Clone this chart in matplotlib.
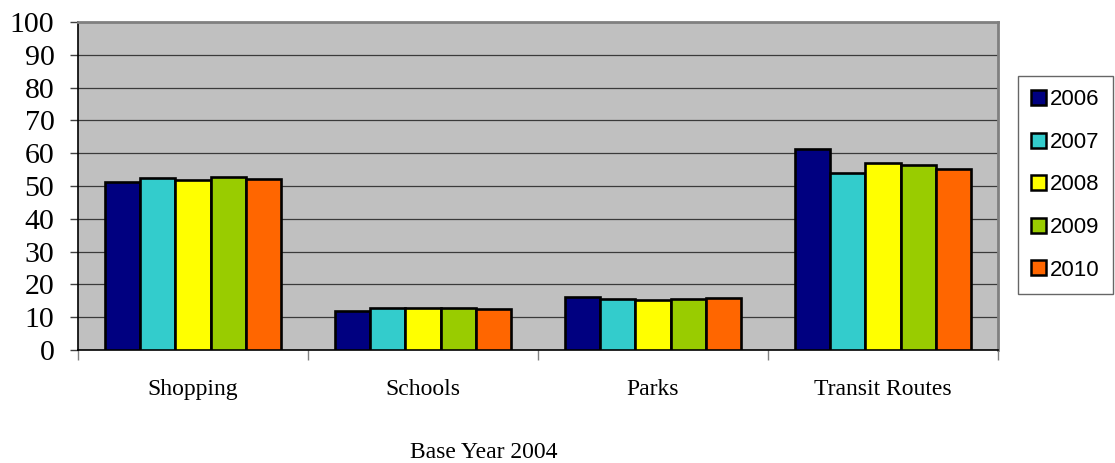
import matplotlib.pyplot as plt
import numpy as np

# values
categories = ['Shopping', 'Schools', 'Parks', 'Transit Routes']
years = ['2006', '2007', '2008', '2009', '2010']
values = {
    '2006': [51.3, 11.8, 16.1, 61.2],
    '2007': [52.4, 12.9, 15.6, 53.9],
    '2008': [51.7, 12.7, 15.3, 57.0],
    '2009': [52.8, 12.9, 15.5, 56.3],
    '2010': [52.1, 12.6, 15.9, 55.1],
}
colors = ['#000080', '#33CCCC', '#FFFF00', '#99CC00', '#FF6600']
y_ticks = list(range(0, 101, 10))

serif = ['Liberation Serif', 'DejaVu Serif']
sans = ['Liberation Sans', 'DejaVu Sans']

fig = plt.figure(figsize=(11.15, 4.63), dpi=100)
ax = fig.add_axes([78 / 1115, 1 - 350 / 463, 920 / 1115, 328 / 463])
ax.set_facecolor('#C0C0C0')

x = np.arange(len(categories))
width = 1 / 6.5
for i, year in enumerate(years):
    offset = (i - 2) * width
    ax.bar(x + offset, values[year], width, color=colors[i],
           edgecolor='black', linewidth=1.9, label=year, zorder=3)

ax.set_xlim(-0.5, len(categories) - 0.5)
ax.set_ylim(0, 100)

# y axis
ax.set_yticks(y_ticks)
ax.set_yticklabels([str(t) for t in y_ticks], family=serif, fontsize=21.5)
ax.tick_params(axis='y', direction='out', length=6, width=1, color='#404040', pad=11)
ax.grid(axis='y', color='#3a3a3a', linewidth=0.9, zorder=1)

# x axis: ticks at group boundaries, labels at group centres
ax.set_xticks(np.arange(-0.5, len(categories), 1.0))
ax.set_xticklabels([])
ax.tick_params(axis='x', which='major', direction='out', length=7, width=1, color='#808080')
ax.set_xticks(x, minor=True)
ax.set_xticklabels(categories, minor=True, family=serif, fontsize=17)
ax.tick_params(axis='x', which='minor', length=0, pad=21)

ax.spines['left'].set_color('black')
ax.spines['left'].set_linewidth(1.2)
ax.spines['bottom'].set_color('black')
ax.spines['bottom'].set_linewidth(1.2)
ax.spines['top'].set_color('#808080')
ax.spines['top'].set_linewidth(2)
ax.spines['right'].set_color('#808080')
ax.spines['right'].set_linewidth(2)

leg = fig.legend(loc='upper left', bbox_to_anchor=(1018 / 1115, 1 - 76 / 463),
                 bbox_transform=fig.transFigure, frameon=True, fancybox=False,
                 prop={'family': sans, 'size': 16}, handlelength=0.65,
                 handleheight=0.65, handletextpad=0.2, labelspacing=0.97,
                 borderpad=0.6, borderaxespad=0)
leg.get_frame().set_edgecolor('#404040')
leg.get_frame().set_linewidth(1)
for h in leg.legend_handles:
    h.set_linewidth(1.8)

fig.text(484 / 1115, 1 - 453 / 463, 'Base Year 2004', family=serif,
         fontsize=17, ha='center', va='center')

fig.savefig('out.png', dpi=100)
